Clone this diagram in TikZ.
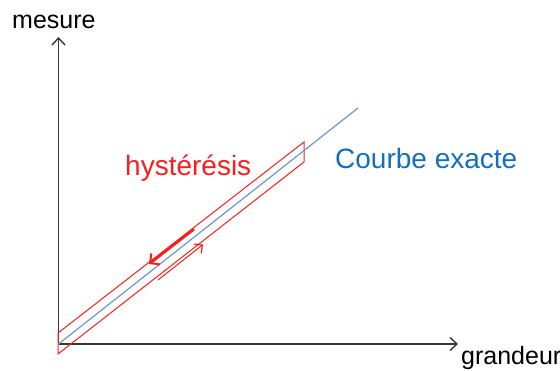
\documentclass[tikz,border=0pt]{standalone}
\usepackage{fontspec}
\setmainfont{Liberation Sans}
\usetikzlibrary{arrows.meta}
\definecolor{axisgray}{RGB}{55,55,55}
\definecolor{curveblue}{RGB}{110,150,200}
\definecolor{textblue}{RGB}{20,110,190}
\definecolor{hred}{RGB}{250,30,30}
\tikzset{
  axis/.style={draw=axisgray, line width=1.7pt, -{Straight Barb[length=7pt,width=13pt,line width=1.4pt]}},
  curve/.style={draw=curveblue, line width=1.2pt},
  hyst/.style={draw=hred, line width=1pt},
  bigarrow/.style={draw=hred, line width=2.8pt, -{Straight Barb[length=7pt,width=14pt,line width=2pt]}},
  smallarrow/.style={draw=hred, line width=1pt, -{Straight Barb[length=6pt,width=12pt,line width=1.2pt]}},
  axlabel/.style={font=\fontsize{25}{27}\selectfont, text=black, inner sep=0pt},
  biglabel/.style={font=\fontsize{28}{30}\selectfont, inner sep=0pt}
}
\begin{document}
\begin{tikzpicture}[x=1pt,y=-1pt]
\useasboundingbox (0,0) rectangle (560,370);
% axes
\coordinate (O) at (58.5,344);
\coordinate (Ytop) at (58.5,37);
\coordinate (Xend) at (458,344);
\draw[axis] (O) -- (Ytop);
\draw[axis] (O) -- (Xend);
\node[axlabel, anchor=base west] (mesure) at (12,28) {mesure};
\node[axlabel, anchor=base west] (grandeur) at (461,364) {grandeur};
% hysteresis band
\coordinate (A) at (58,333);
\coordinate (B) at (304,142);
\coordinate (C) at (304,162);
\coordinate (D) at (58,354);
\draw[hyst] (A) -- (B) -- (C) -- (D) -- cycle;
% exact curve
\coordinate (E) at (358,108);
\draw[curve] (O) -- (E);
% arrows
\coordinate (U1) at (194,229);
\coordinate (U2) at (149,264);
\draw[bigarrow] (U1) -- (U2);
\coordinate (L1) at (158,280);
\coordinate (L2) at (203,244.5);
\draw[smallarrow] (L1) -- (L2);
% labels
\node[biglabel, text=hred, anchor=base west] (hys) at (125,175) {hystérésis};
\node[biglabel, text=textblue, anchor=base west] (courbe) at (335,168) {Courbe exacte};
\end{tikzpicture}
\end{document}
